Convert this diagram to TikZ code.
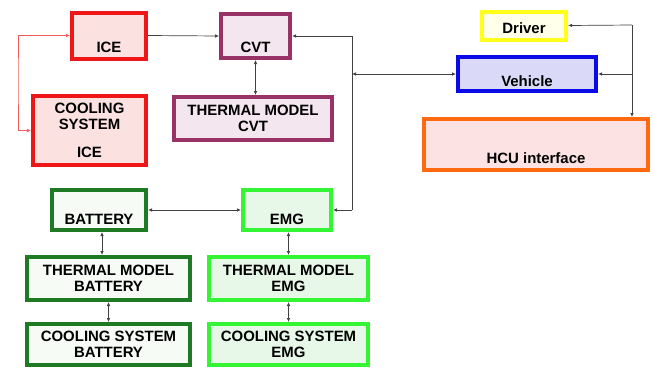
\documentclass[tikz,border=0pt]{standalone}
\usepackage{fontspec}
\setmainfont{Liberation Sans}
\usepackage{tikz}
\usetikzlibrary{arrows.meta,positioning,calc}
\definecolor{iceRed}{HTML}{EE1616}
\definecolor{iceFill}{HTML}{FCE1E1}
\definecolor{cvtPurple}{HTML}{993366}
\definecolor{cvtFill}{HTML}{F3E6EE}
\definecolor{drvYellow}{HTML}{FFFF1A}
\definecolor{drvFill}{HTML}{FFFFEA}
\definecolor{vehBlue}{HTML}{0A0AE6}
\definecolor{vehFill}{HTML}{DADAF8}
\definecolor{hcuOrange}{HTML}{FF6A10}
\definecolor{hcuFill}{HTML}{FCE2E2}
\definecolor{batGreen}{HTML}{1F7A24}
\definecolor{batFill}{HTML}{F6FBF6}
\definecolor{emgGreen}{HTML}{33F533}
\definecolor{emgFill}{HTML}{E8F8E8}
\definecolor{wire}{HTML}{404040}

\begin{document}
\begin{tikzpicture}[x=1bp,y=-1bp,
    blk/.style={draw,line width=4bp,inner sep=0pt,align=center,
      font=\fontsize{15}{16}\selectfont\bfseries},
    txtdown/.style={text height=#1,text depth=0pt},
    iceblk/.style={blk,draw=iceRed,fill=iceFill},
    cvtblk/.style={blk,draw=cvtPurple,fill=cvtFill},
    batblk/.style={blk,draw=batGreen,fill=batFill},
    emgblk/.style={blk,draw=emgGreen,fill=emgFill},
    link/.style={draw=wire,line width=0.7bp},
    tip/.style={-{Latex[length=4bp,width=3.5bp]}},
    twotip/.style={{Latex[length=4bp,width=3.5bp]}-{Latex[length=4bp,width=3.5bp]}}]
  \fill[white] (0,0) rectangle (653,369);
  \useasboundingbox (0,0) rectangle (653,369);

  % engine side
  \node[iceblk,minimum width=74bp,minimum height=46bp,txtdown=33bp] (ice) at (109,35.5) {ICE};
  \node[iceblk,minimum width=113bp,minimum height=69bp] (coolice) at (89.5,130.5) {COOLING\\SYSTEM\\[12bp]ICE};
  \node[cvtblk,minimum width=69bp,minimum height=44bp,txtdown=32bp] (cvt) at (255.5,36) {CVT};
  \node[cvtblk,minimum width=158bp,minimum height=43bp] (tmcvt) at (253,118.5) {THERMAL MODEL\\CVT};

  % driver, vehicle, hcu
  \node[blk,draw=drvYellow,fill=drvFill,minimum width=84bp,minimum height=28bp,txtdown=15bp] (driver) at (524,25.5) {Driver};
  \node[blk,draw=vehBlue,fill=vehFill,minimum width=138bp,minimum height=34bp,txtdown=24bp] (vehicle) at (527,74) {Vehicle};
  \node[blk,draw=hcuOrange,fill=hcuFill,minimum width=224bp,minimum height=51bp,txtdown=37bp] (hcu) at (536,144.5) {HCU interface};

  % electric side
  \node[batblk,minimum width=94bp,minimum height=40bp,txtdown=28bp] (battery) at (99,210) {BATTERY};
  \node[emgblk,minimum width=88bp,minimum height=40bp,txtdown=28bp] (emg) at (287,210) {EMG};
  \node[batblk,minimum width=163bp,minimum height=43bp] (tmbat) at (108.5,278.5) {THERMAL MODEL\\BATTERY};
  \node[emgblk,minimum width=159bp,minimum height=43bp] (tmemg) at (288.5,278.5) {THERMAL MODEL\\EMG};
  \node[batblk,minimum width=163bp,minimum height=41bp] (csbat) at (108.5,344.5) {COOLING SYSTEM\\BATTERY};
  \node[emgblk,minimum width=159bp,minimum height=41bp] (csemg) at (288.5,344.5) {COOLING SYSTEM\\EMG};

  \coordinate (redL) at (18,80);
  \coordinate (busT) at (352,36);
  \coordinate (busB) at (352,210);
  \coordinate (busV) at (busT |- vehicle.west);
  \coordinate (rb) at (632,25);
  \coordinate (rbV) at (rb |- vehicle.east);
  \coordinate (rbH) at (rb |- hcu.north);

  % connectors
  \draw[link,draw=iceRed!70,twotip] (ice.west) -| (redL) |- (coolice.west);
  \draw[link,tip] (ice.east) -- (cvt.west);
  \draw[link,twotip] (cvt.south) -- (cvt.south |- tmcvt.north);
  \draw[link] (busT) -- (busB);
  \draw[link,tip] (busT) -- (cvt.east);
  \draw[link,tip] (busB) -- (emg.east);
  \draw[link,twotip] (vehicle.west) -- (busV);
  \draw[link,tip] (rb) -- (driver.east);
  \draw[link,tip] (rbV) -- (vehicle.east);
  \draw[link,tip] (rb) -- (rbH);
  \draw[link,twotip] (battery.east) -- (emg.west);
  \draw[link,twotip] ([xshift=3bp]battery.south) -- ([xshift=3bp]battery.south |- tmbat.north);
  \draw[link,twotip] (tmbat.south) -- (csbat.north);
  \draw[link,twotip] (emg.south -| tmemg.north) -- (tmemg.north);
  \draw[link,twotip] (tmemg.south) -- (csemg.north);
\end{tikzpicture}
\end{document}
